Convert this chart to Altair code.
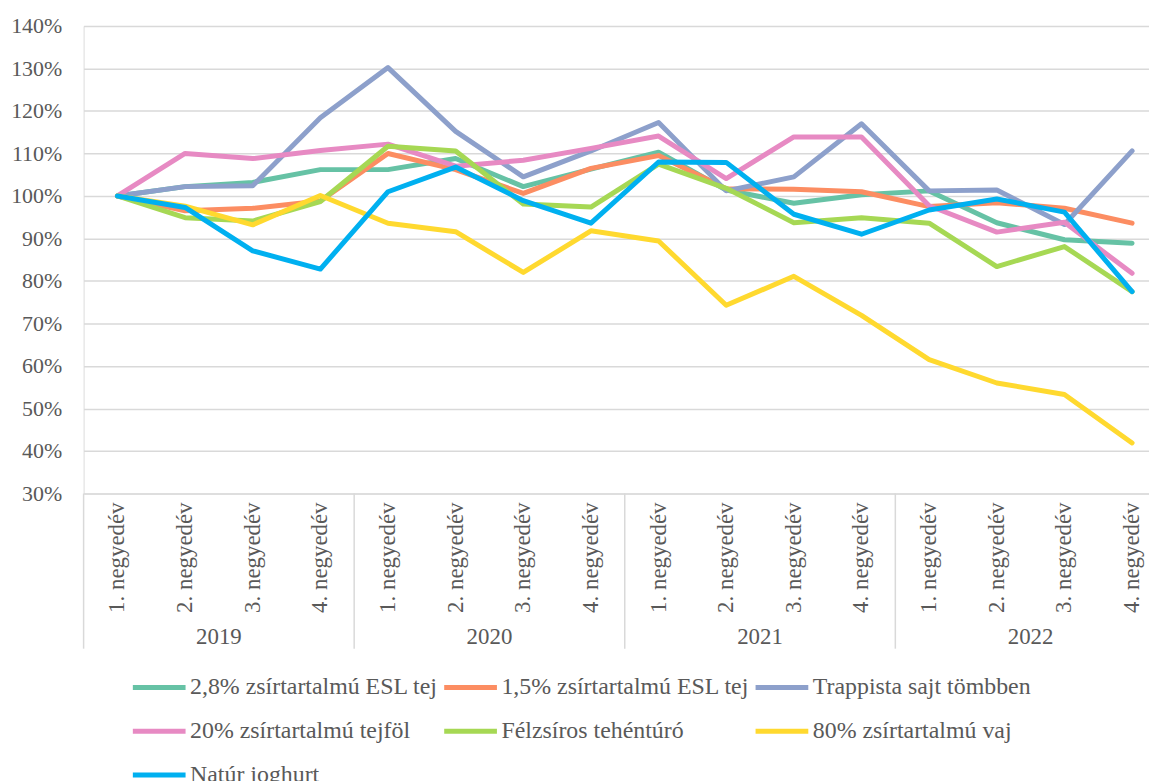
import altair as alt
import pandas as pd

quarters = ["1. negyedév", "2. negyedév", "3. negyedév", "4. negyedév"]
years = ["2019", "2020", "2021", "2022"]

series_names = [
    "2,8% zsírtartalmú ESL tej",
    "1,5% zsírtartalmú ESL tej",
    "Trappista sajt tömbben",
    "20% zsírtartalmú tejföl",
    "Félzsíros tehéntúró",
    "80% zsírtartalmú vaj",
    "Natúr joghurt",
]
colors = ["#66c2a5", "#fc8d62", "#8da0cb", "#e78ac3", "#a6d854", "#ffd92f", "#00b0f0"]

esl28 = [100, 102.2, 103.2, 106.2, 106.2, 108.8, 102.2, 106.3, 110.3, 101.4, 98.3, 100.3, 101.2, 93.7, 89.7, 88.9]
esl15 = [100, 96.5, 97.1, 98.8, 110.0, 106.2, 100.6, 106.5, 109.5, 101.7, 101.6, 101.0, 97.5, 98.4, 97.1, 93.6]
trappista = [100, 102.2, 102.4, 118.4, 130.2, 115.2, 104.5, 110.6, 117.3, 101.2, 104.5, 117.0, 101.2, 101.4, 93.3, 110.6]
tejfol = [100, 110.0, 108.8, 110.7, 112.2, 107.0, 108.4, 111.2, 114.1, 104.1, 113.9, 113.9, 97.7, 91.5, 93.8, 81.8]
turo = [100, 94.9, 94.1, 98.7, 111.7, 110.6, 98.1, 97.4, 107.5, 101.8, 93.7, 94.9, 93.6, 83.4, 88.1, 77.5]
vaj = [100, 97.6, 93.2, 100.1, 93.6, 91.6, 82.0, 91.8, 89.4, 74.3, 81.1, 71.9, 61.5, 56.0, 53.3, 41.9]
joghurt = [100, 97.3, 87.1, 82.8, 101.0, 106.8, 98.9, 93.6, 108.0, 107.9, 95.7, 91.0, 96.7, 99.3, 96.2, 77.5]

y_ticks = [30, 40, 50, 60, 70, 80, 90, 100, 110, 120, 130, 140]

all_series = [esl28, esl15, trappista, tejfol, turo, vaj, joghurt]
rows = []
for name, vals in zip(series_names, all_series):
    for i, v in enumerate(vals):
        rows.append({"series": name, "idx": i, "value": v})
df = pd.DataFrame(rows)

qdf = pd.DataFrame({
    "idx": list(range(16)),
    "label": [q for _ in years for q in quarters],
})
ydf = pd.DataFrame({"idx": [1.5, 5.5, 9.5, 13.5], "label": years})
sepdf = pd.DataFrame({"idx": [-0.5, 3.5, 7.5, 11.5]})

FONT = "Liberation Serif"
TXT = "#595959"
GRID = "#d9d9d9"

xscale = alt.Scale(domain=[-0.5, 15.25], nice=False, zero=False)

lines = alt.Chart(df).mark_line(strokeWidth=5, strokeCap="round", strokeJoin="round").encode(
    x=alt.X("idx:Q", scale=xscale, axis=None),
    y=alt.Y(
        "value:Q",
        scale=alt.Scale(domain=[30, 140], nice=False, zero=False),
        axis=alt.Axis(
            values=y_ticks, labelExpr="datum.value + '%'", title=None,
            domain=False, ticks=False, labelPadding=22,
            labelFont=FONT, labelFontSize=22, labelColor=TXT,
            grid=True, gridColor=GRID, gridWidth=1.5,
        ),
    ),
    color=alt.Color(
        "series:N",
        scale=alt.Scale(domain=series_names, range=colors),
        sort=series_names,
        legend=alt.Legend(
            orient="none", legendX=47, legendY=636, columns=3, direction="horizontal",
            title=None, symbolType="stroke", symbolSize=2809, symbolStrokeWidth=5,
            labelFont=FONT, labelFontSize=24, labelColor=TXT, labelLimit=0,
            labelOffset=2, columnPadding=-5, rowPadding=3, padding=0,
        ),
    ),
    order=alt.Order("idx:Q"),
)

qlabels = alt.Chart(qdf).mark_text(
    angle=270, align="right", baseline="middle", font=FONT, fontSize=23, color=TXT
).encode(
    x=alt.X("idx:Q", scale=xscale, axis=None),
    y=alt.value(479),
    text="label:N",
)

ylabels = alt.Chart(ydf).mark_text(
    align="center", baseline="middle", font=FONT, fontSize=23, color=TXT
).encode(
    x=alt.X("idx:Q", scale=xscale, axis=None),
    y=alt.value(614),
    text="label:N",
)

seps = alt.Chart(sepdf).mark_rule(color=GRID, strokeWidth=1.5).encode(
    x=alt.X("idx:Q", scale=xscale, axis=None),
    y=alt.value(470),
    y2=alt.value(626),
)

chart = alt.layer(seps, qlabels, ylabels, lines).properties(
    width=1071,
    height=470,
    autosize=alt.AutoSizeParams(type="none"),
    padding={"left": 76, "top": 16, "right": 0, "bottom": 296},
).configure_view(stroke=None).configure(background="white")

chart.save("out.html", embed_options={"renderer": "svg", "actions": False})
